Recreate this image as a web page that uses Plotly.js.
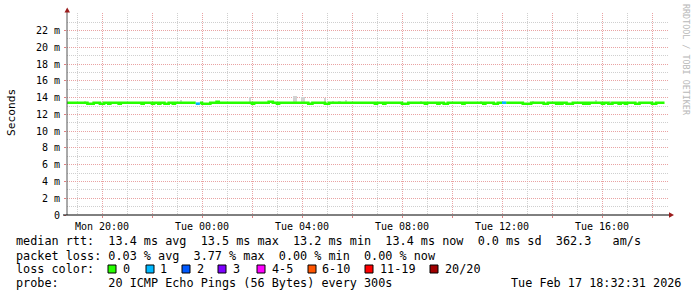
<!DOCTYPE html>
<html><head><meta charset="utf-8">
<script src="https://cdn.plot.ly/plotly-3.0.1.min.js"></script>
<style>html,body{margin:0;padding:0;background:#fff;} #chart{width:697px;height:297px;}</style>
</head><body><div id="chart"></div>
<script>
// ---------------- data ----------------
const dataStart = '2026-02-16 18:35';
const dataEnd   = '2026-02-17 18:30';
const baseRtt = 13.4; // ms, typical median

// periods where median rtt differs from baseline or loss > 0
const periodStart = ['2026-02-16 19:25','2026-02-16 19:55','2026-02-16 20:15','2026-02-16 20:40','2026-02-16 21:35','2026-02-16 22:00','2026-02-16 22:15','2026-02-16 22:30','2026-02-16 22:50','2026-02-16 23:45',
  '2026-02-17 00:00','2026-02-17 00:35','2026-02-17 02:00','2026-02-17 02:40','2026-02-17 03:00','2026-02-17 04:15','2026-02-17 04:55','2026-02-17 06:55','2026-02-17 07:15','2026-02-17 08:00',
  '2026-02-17 08:55','2026-02-17 09:25','2026-02-17 09:40','2026-02-17 10:25','2026-02-17 11:15','2026-02-17 11:40','2026-02-17 12:00','2026-02-17 12:50','2026-02-17 13:40','2026-02-17 14:10',
  '2026-02-17 14:20','2026-02-17 14:35','2026-02-17 15:15','2026-02-17 15:25','2026-02-17 16:00','2026-02-17 16:15','2026-02-17 16:40','2026-02-17 16:55','2026-02-17 17:20','2026-02-17 18:00'];
const periodEnd = ['2026-02-16 19:40','2026-02-16 20:05','2026-02-16 20:20','2026-02-16 20:45','2026-02-16 21:40','2026-02-16 22:05','2026-02-16 22:20','2026-02-16 22:40','2026-02-16 22:55','2026-02-16 23:55',
  '2026-02-17 00:20','2026-02-17 00:40','2026-02-17 02:05','2026-02-17 02:50','2026-02-17 03:05','2026-02-17 04:25','2026-02-17 05:05','2026-02-17 07:00','2026-02-17 07:20','2026-02-17 08:15',
  '2026-02-17 09:00','2026-02-17 09:30','2026-02-17 09:50','2026-02-17 10:30','2026-02-17 11:20','2026-02-17 11:50','2026-02-17 12:10','2026-02-17 13:10','2026-02-17 13:50','2026-02-17 14:15',
  '2026-02-17 14:25','2026-02-17 14:50','2026-02-17 15:20','2026-02-17 15:30','2026-02-17 16:05','2026-02-17 16:25','2026-02-17 16:45','2026-02-17 17:00','2026-02-17 17:30','2026-02-17 18:10'];
const periodRtt = [13.28,13.28,13.28,13.28,13.28,13.28,13.28,13.28,13.28,13.28,
  13.28,13.52,13.28,13.52,13.28,13.28,13.28,13.28,13.28,13.28,
  13.28,13.28,13.28,13.28,13.28,13.28,13.4,13.28,13.28,13.28,
  13.28,13.28,13.28,13.28,13.28,13.28,13.28,13.28,13.28,13.28];
const periodLoss = [0,0,0,0,0,0,0,0,0,1,
  0,0,0,0,0,0,0,0,0,0,
  0,0,0,0,0,0,1,0,0,0,
  0,0,0,0,0,0,0,0,0,0];

// smoke: highest individual ping above the median
const smokeTime = ['2026-02-16 19:20','2026-02-16 23:10','2026-02-17 01:55','2026-02-17 03:40','2026-02-17 03:45','2026-02-17 04:00','2026-02-17 04:05','2026-02-17 04:55',
  '2026-02-17 05:15','2026-02-17 05:30','2026-02-17 05:45','2026-02-17 08:45','2026-02-17 11:10','2026-02-17 13:15','2026-02-17 15:45','2026-02-17 16:20'];
const smokeTop = [13.64,13.75,14.1,14.25,14.25,14.1,14.1,13.95,13.6,13.6,13.75,13.6,13.6,13.6,13.75,13.6];

const yTickVals = [0,2,4,6,8,10,12,14,16,18,20,22];
const yTickText = ['0','2 m','4 m','6 m','8 m','10 m','12 m','14 m','16 m','18 m','20 m','22 m'];
const yMinorVals = [1,3,5,7,9,11,13,15,17,19,21,23];
const xTickVals = ['2026-02-16 20:00','2026-02-16 22:00','2026-02-17 00:00','2026-02-17 02:00','2026-02-17 04:00','2026-02-17 06:00','2026-02-17 08:00','2026-02-17 10:00','2026-02-17 12:00','2026-02-17 14:00','2026-02-17 16:00','2026-02-17 18:00'];
const xTickText = ['Mon 20:00','','Tue 00:00','','Tue 04:00','','Tue 08:00','','Tue 12:00','','Tue 16:00',''];

const lossLabels = ['0','1','2','3','4-5','6-10','11-19','20/20'];
const lossColors = ['#26ff00','#00b8ff','#0059ff','#7e00ff','#ff00ff','#ff5500','#ff0000','#a10000'];

const statRtt  = 'median rtt:  13.4 ms avg  13.5 ms max  13.2 ms min  13.4 ms now  0.0 ms sd  362.3   am/s';
const statLoss = 'packet loss: 0.03 % avg  3.77 % max  0.00 % min  0.00 % now';
const lossTitle = 'loss color:';
const probeText = 'probe:       20 ICMP Echo Pings (56 Bytes) every 300s';
const stampText = 'Tue Feb 17 18:32:31 2026';
const yTitle = 'Seconds';
const watermark = 'RRDTOOL / TOBI OETIKER';

// ---------------- build ----------------
function lossIndex(n){ if(n<=3) return n; if(n<=5) return 4; if(n<=10) return 5; if(n<=19) return 6; return 7; }

const segs = [];
let cur = dataStart;
for (let i=0;i<periodStart.length;i++){
  if (periodStart[i] > cur) segs.push({x0:cur,x1:periodStart[i],v:baseRtt,c:0});
  segs.push({x0:periodStart[i],x1:periodEnd[i],v:periodRtt[i],c:lossIndex(periodLoss[i])});
  cur = periodEnd[i];
}
if (dataEnd > cur) segs.push({x0:cur,x1:dataEnd,v:baseRtt,c:0});

const lineX = lossColors.map(()=>[]), lineY = lossColors.map(()=>[]);
let prevC = -1;
segs.forEach(s=>{
  const X = lineX[s.c], Y = lineY[s.c];
  if (prevC !== s.c && X.length){ X.push(null); Y.push(null); }
  X.push(s.x0, s.x1); Y.push(s.v, s.v);
  prevC = s.c;
});

const traces = [];
traces.push({type:'bar', x:smokeTime, y:smokeTop.map(v=>v-baseRtt), base:smokeTime.map(()=>baseRtt),
  width:smokeTime.map(()=>300000), marker:{color:'#d2d2d2', line:{width:0}}, hoverinfo:'skip'});
lossColors.forEach((col,i)=>{
  if (lineX[i].length) traces.push({type:'scatter', mode:'lines', x:lineX[i], y:lineY[i], connectgaps:false,
    line:{color:col, width:2.6}, hoverinfo:'skip'});
});

// pixel -> paper helpers (plot area: x 67..668, y 13..215)
const L=67, R=668, T=13, B=215;
const PX = p => (p-L)/(R-L);
const PY = p => (B-p)/(B-T);

const mono = 'DejaVu Sans Mono';
const nb = s => s.replace(/ /g,'\u00a0');
const ann = [];
function txt(text,x,y,opts){
  ann.push(Object.assign({text:nb(text), xref:'paper', yref:'paper', x:PX(x), y:PY(y), xanchor:'left', yanchor:'middle',
    showarrow:false, borderpad:0, borderwidth:0, font:{family:mono,size:11.8,color:'#000'}}, opts||{}));
}
txt(statRtt,16,241);
txt(statLoss,16,255.5);
txt(lossTitle,16,269);
const swX = [108,146,182,218,257,308,365,430];
const lbX = [123,160,197,233,272,322,380,445];
const shapes = [];
lossLabels.forEach((lb,i)=>{
  shapes.push({type:'rect', xref:'paper', yref:'paper', x0:PX(swX[i]), x1:PX(swX[i]+8), y0:PY(273), y1:PY(265),
    fillcolor:lossColors[i], line:{color:'#000', width:1}});
  txt(lb,lbX[i],269);
});
txt(probeText,16,283);
txt(stampText,681,283,{xanchor:'right'});
ann.push({text:yTitle, xref:'paper', yref:'paper', x:PX(11), y:PY(113), xanchor:'center', yanchor:'middle', textangle:-90,
  showarrow:false, borderpad:0, font:{family:mono,size:11.2,color:'#000'}});
ann.push({text:nb(watermark), xref:'paper', yref:'paper', x:PX(686), y:PY(60), xanchor:'center', yanchor:'middle', textangle:90,
  showarrow:false, borderpad:0, font:{family:mono,size:8.4,color:'#b8b8b8'}});

// axis lines and arrows
shapes.push({type:'line', xref:'paper', yref:'paper', x0:PX(67), x1:PX(67), y0:PY(215), y1:PY(10), line:{color:'#555', width:1}});
shapes.push({type:'line', xref:'paper', yref:'paper', x0:PX(63), x1:PX(670), y0:PY(215), y1:PY(215), line:{color:'#000', width:1}});
shapes.push({type:'path', xref:'paper', yref:'paper', path:`M ${PX(64.5)} ${PY(12.5)} L ${PX(70)} ${PY(12.5)} L ${PX(67.2)} ${PY(7.5)} Z`, fillcolor:'#9b1c1c', line:{width:0}});
shapes.push({type:'path', xref:'paper', yref:'paper', path:`M ${PX(669)} ${PY(212.3)} L ${PX(669)} ${PY(217.7)} L ${PX(674)} ${PY(215)} Z`, fillcolor:'#9b1c1c', line:{width:0}});

const layout = {
  width:697, height:297, margin:{l:L, r:697-R, t:T, b:297-B, pad:0},
  paper_bgcolor:'#fff', plot_bgcolor:'#fff', showlegend:false, barmode:'overlay', bargap:0,
  font:{family:mono, size:10, color:'#000'},
  xaxis:{type:'date', range:['2026-02-16 18:36','2026-02-17 18:38:24'], tickmode:'array', tickvals:xTickVals, ticktext:xTickText,
    showgrid:true, gridcolor:'#e9a3a3', gridwidth:1, griddash:'1px,1px', zeroline:false, showline:false,
    ticks:'outside', ticklen:2, tickcolor:'#e08080', tickfont:{family:mono,size:10,color:'#000'},
    minor:{dtick:3600000, tick0:'2026-02-16 19:00', showgrid:true, gridcolor:'#cfcfcf', griddash:'1px,1px', ticks:''},
    fixedrange:true},
  yaxis:{range:[0,24.1], tickmode:'array', tickvals:yTickVals, ticktext:yTickText,
    showgrid:true, gridcolor:'#e9a3a3', gridwidth:1, griddash:'1px,1px', zeroline:false, showline:false,
    ticks:'outside', ticklen:2, tickcolor:'#e08080', tickfont:{family:mono,size:10,color:'#000'}, ticklabelstandoff:2,
    minor:{tickmode:'array', tickvals:yMinorVals, showgrid:true, gridcolor:'#cfcfcf', griddash:'1px,1px', ticks:''},
    fixedrange:true},
  annotations:ann, shapes:shapes
};
Plotly.newPlot('chart', traces, layout, {staticPlot:true, displayModeBar:false});
</script></body></html>
